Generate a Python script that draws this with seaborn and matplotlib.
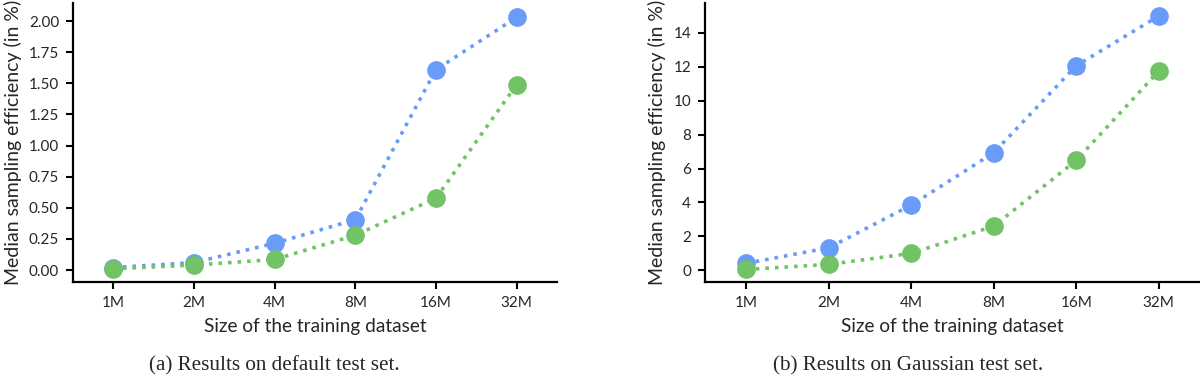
import matplotlib
matplotlib.use("Agg")
import matplotlib.pyplot as plt
import seaborn as sns
import pandas as pd

sizes = ["1M", "2M", "4M", "8M", "16M", "32M"]
default_blue = [0.02, 0.06, 0.215, 0.405, 1.61, 2.03]
default_green = [0.01, 0.04, 0.085, 0.28, 0.577, 1.49]
gauss_blue = [0.40, 1.32, 3.84, 6.93, 12.07, 15.0]
gauss_green = [0.04, 0.34, 0.99, 2.60, 6.48, 11.75]
series_names = ["A", "B"]
colors = ["#699cf8", "#72c266"]

default_ticks = [0.0, 0.25, 0.5, 0.75, 1.0, 1.25, 1.5, 1.75, 2.0]
default_ticklabels = ["0.00", "0.25", "0.50", "0.75", "1.00", "1.25", "1.50", "1.75", "2.00"]
gauss_ticks = [0, 2, 4, 6, 8, 10, 12, 14]

xlabel = "Size of the training dataset"
ylabel = "Median sampling efficiency (in %)"
captions = ["(a) Results on default test set.", "(b) Results on Gaussian test set."]

sns.set_theme(style="ticks")
plt.rcParams["font.family"] = ["Lato", "DejaVu Sans"]

def make_df(b, g):
    return pd.DataFrame({
        "size": sizes * 2,
        "value": list(b) + list(g),
        "series": [series_names[0]] * len(sizes) + [series_names[1]] * len(sizes),
    })

fig = plt.figure(figsize=(12, 3.81), dpi=100)
ax1 = fig.add_axes([73/1200, 99/381, 484/1200, 279/381])
ax2 = fig.add_axes([705/1200, 99/381, 495/1200, 279/381])

for ax, (b, g) in zip([ax1, ax2], [(default_blue, default_green), (gauss_blue, gauss_green)]):
    df = make_df(b, g)
    sns.pointplot(data=df, x="size", y="value", hue="series", order=sizes,
                  hue_order=series_names, palette=colors, linestyle=":",
                  marker="o", markersize=11.5, linewidth=2.6, legend=False, ax=ax)
    ax.set_xlabel(xlabel, fontsize=13.7, labelpad=6)
    ax.set_ylabel(ylabel, fontsize=14, labelpad=5)
    for s in ["top", "right"]:
        ax.spines[s].set_visible(False)
    for s in ["left", "bottom"]:
        ax.spines[s].set_linewidth(1.6)
        ax.spines[s].set_color("black")
    ax.tick_params(axis="both", direction="out", length=5, width=1.5, color="black",
                   labelsize=11, pad=5)
    ax.set_xlim(-0.5, 5.5)

ax1.set_yticks(default_ticks)
ax1.set_yticklabels(default_ticklabels)
ax1.set_ylim(-0.096, 2.145)
ax2.set_yticks(gauss_ticks)
ax2.set_ylim(-0.7, 15.77)

fig.text(274/1200, 1 - 366/381, captions[0], ha="center", va="center",
         fontsize=15.2, family="Liberation Serif")
fig.text(908/1200, 1 - 366/381, captions[1], ha="center", va="center",
         fontsize=15.2, family="Liberation Serif")

fig.savefig("out.png", dpi=100)
